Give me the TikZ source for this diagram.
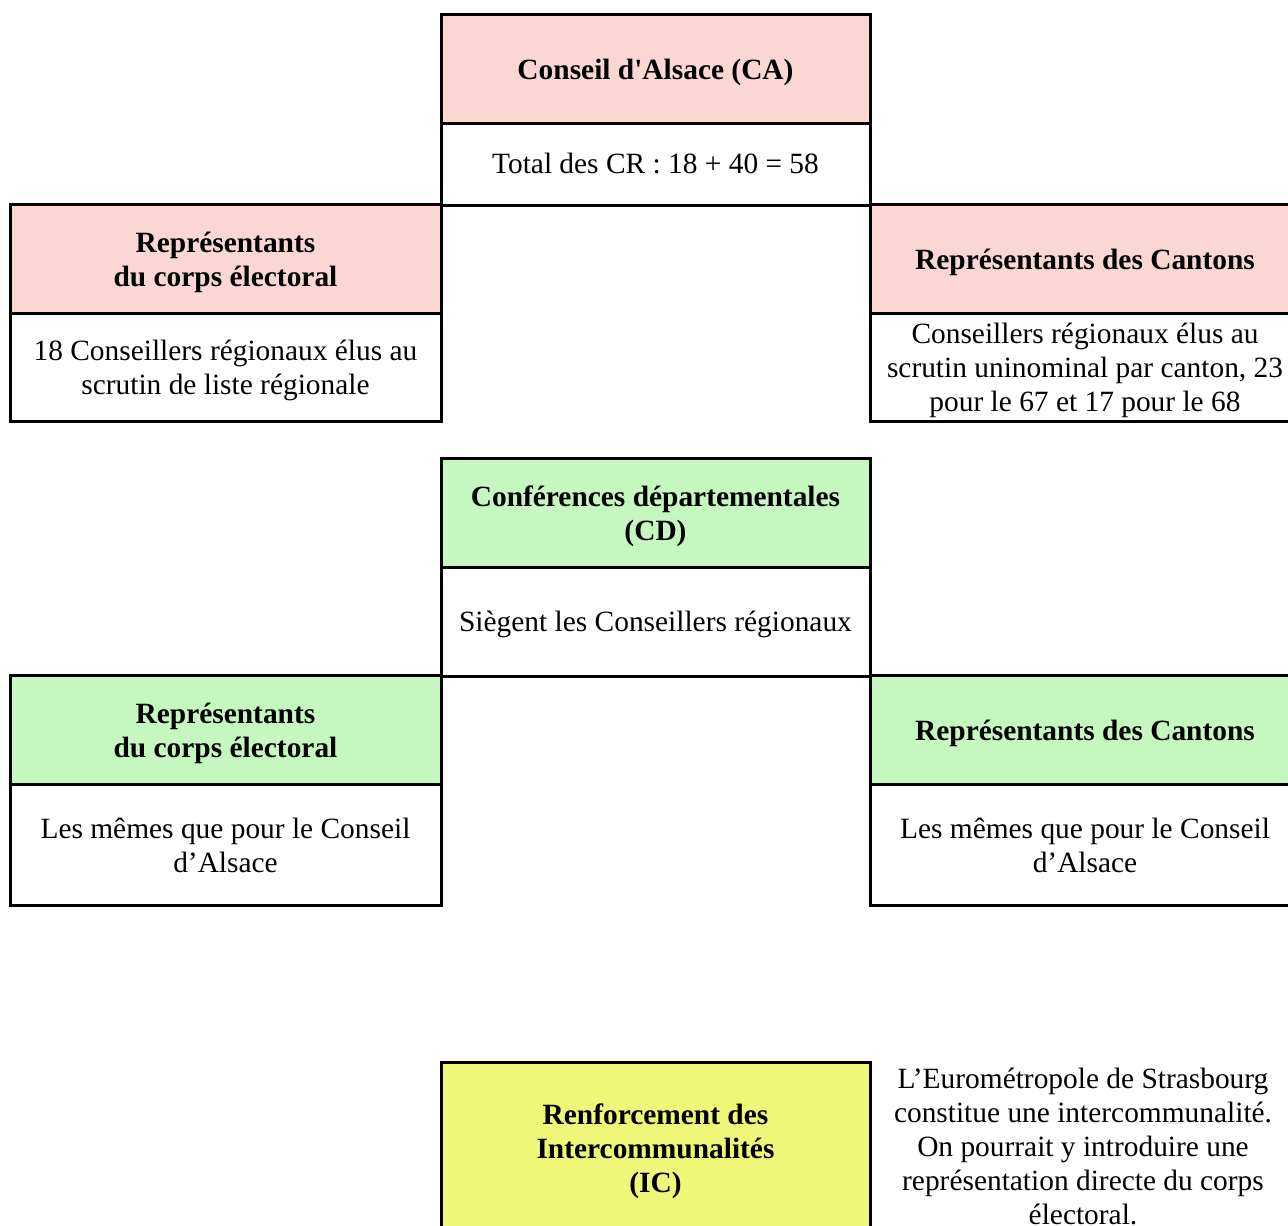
\documentclass[tikz,border=0pt]{standalone}
\usepackage{fontspec}
\setmainfont{Liberation Serif}[Ligatures=TeXOff]
\definecolor{pinkc}{RGB}{250,215,210}
\definecolor{greenc}{RGB}{198,247,192}
\definecolor{yellowc}{RGB}{238,247,120}
\newcommand\cellstrut{\rule[-6.4pt]{0pt}{32.6pt}}
\newcommand\topstrut{\rule[-6.4pt]{0pt}{34pt}}
\newcommand\botstrut{\rule[-6.4pt]{0pt}{32.6pt}}
\tikzset{
  cell/.style={draw, line width=3pt, inner sep=0pt, outer sep=0pt, anchor=north west,
    align=center, font=\fontsize{29.4}{34}\selectfont,
    execute at begin node=\cellstrut, execute at end node=\cellstrut},
  hdr/.style={cell, font=\fontsize{29.4}{34}\selectfont\bfseries},
  dropby/.style={execute at begin node={\rule{0pt}{#1}}},
  single/.style={dropby=29.2pt},
  note/.style={inner sep=0pt, align=center, font=\fontsize{29.4}{34}\selectfont}
}
\begin{document}
\begin{tikzpicture}[x=1pt,y=-1pt]
\useasboundingbox (0,0) rectangle (1288,1226);
% Conseil d'Alsace
\node[hdr, single, fill=pinkc, minimum width=429pt, minimum height=109pt] (caH) at (441,14) {Conseil d'Alsace (CA)};
\node[cell, minimum width=429pt, minimum height=82pt] (caB) at (441,123) {Total des CR : 18 + 40 = 58};
\node[hdr, fill=pinkc, minimum width=431pt, minimum height=109pt] (ceH) at (10,204) {\topstrut Représentants\\du corps électoral\botstrut};
\node[cell, minimum width=431pt, minimum height=108pt] (ceB) at (10,313) {\topstrut 18 Conseillers régionaux élus au\\scrutin de liste régionale\botstrut};
\node[hdr, single, fill=pinkc, minimum width=430pt, minimum height=109pt] (rcH) at (870,204) {Représentants des Cantons};
\node[cell, minimum width=430pt, minimum height=108pt] (rcB) at (870,313) {\topstrut Conseillers régionaux élus au\\scrutin uninominal par canton, 23\\pour le 67 et 17 pour le 68\botstrut};
% Conferences departementales
\node[hdr, fill=greenc, minimum width=429pt, minimum height=109pt] (cdH) at (441,458) {\topstrut Conférences départementales\\(CD)\botstrut};
\node[cell, minimum width=429pt, minimum height=109pt] (cdB) at (441,567) {Siègent les Conseillers régionaux};
\node[hdr, fill=greenc, minimum width=431pt, minimum height=109pt] (gceH) at (10,675) {\topstrut Représentants\\du corps électoral\botstrut};
\node[cell, minimum width=431pt, minimum height=121pt] (gceB) at (10,784) {\topstrut Les mêmes que pour le Conseil\\d’Alsace\botstrut};
\node[hdr, single, fill=greenc, minimum width=430pt, minimum height=109pt] (grcH) at (870,675) {Représentants des Cantons};
\node[cell, minimum width=430pt, minimum height=121pt] (grcB) at (870,784) {\topstrut Les mêmes que pour le Conseil\\d’Alsace\botstrut};
% Intercommunalites
\node[hdr, fill=yellowc, minimum width=429pt, minimum height=172pt] (ic) at (441,1062) {\topstrut Renforcement des\\Intercommunalités\\(IC)\botstrut};
\node[note] (icn) at (1083,1146) {L’Eurométropole de Strasbourg\\constitue une intercommunalité.\\On pourrait y introduire une\\représentation directe du corps\\électoral.};
\end{tikzpicture}
\end{document}
